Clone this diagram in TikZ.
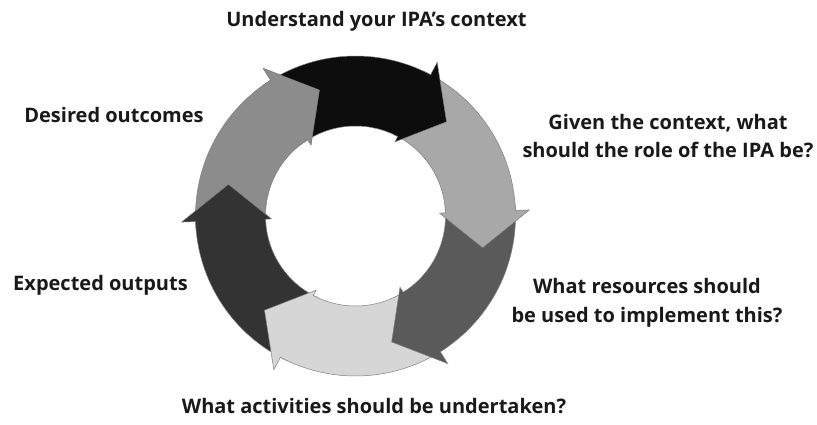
\documentclass[tikz,border=0pt]{standalone}
\usepackage{fontspec}
\setmainfont{Open Sans}
\begin{document}
\begin{tikzpicture}[x=1pt,y=1pt,
  lbl/.style={font=\fontsize{20}{28.5}\selectfont\bfseries, text=black!90, align=center, inner sep=0pt},
  arrowstyle/.style={draw=black!50, line width=0.5pt, line join=miter}]
\useasboundingbox (0,0) rectangle (817,424);
\fill[white] (0,0) rectangle (817,424);
\coordinate (C) at (355.5,208);
\newcommand{\cycarrow}[3]{%
  \path[arrowstyle, fill=#3]
    ([shift={(C)}]#1:160) arc[start angle=#1, end angle=#2, radius=160]
    -- ([shift={(C)}]#2:174) -- ([shift={(C)}]{#2-16}:131)
    -- ([shift={(C)}]#2:84) -- ([shift={(C)}]#2:90)
    arc[start angle=#2, end angle=#1, radius=90] -- cycle;}
\definecolor{cA}{HTML}{0D0D0D}
\definecolor{cB}{HTML}{A8A8A8}
\definecolor{cC}{HTML}{5A5A5A}
\definecolor{cD}{HTML}{D6D6D6}
\definecolor{cE}{HTML}{333333}
\definecolor{cF}{HTML}{8C8C8C}
% draw order so that each head lies over the next arrow's tail
\cycarrow{185}{122}{cF}
\cycarrow{-115}{-178}{cE}
\cycarrow{-55}{-118}{cD}
\cycarrow{5}{-58}{cC}
\cycarrow{65}{2}{cB}
\cycarrow{125}{62}{cA}
\begin{scope}
  \clip (C) -- ([shift={(C)}]100:200) arc[start angle=100, end angle=129, radius=200] -- cycle;
  \cycarrow{185}{122}{cF}
\end{scope}
% labels
\node[lbl] (t1) at (376.5,403) {Understand your IPA’s context};
\node[lbl] (t2) at (668,288) {Given the context, what\\should the role of the IPA be?};
\node[lbl] (t3) at (647,121) {What resources should\\be used to implement this?};
\node[lbl] (t4) at (374,18) {What activities should be undertaken?};
\node[lbl] (t5) at (100.5,139) {Expected outputs};
\node[lbl] (t6) at (114,309) {Desired outcomes};
\end{tikzpicture}
\end{document}
